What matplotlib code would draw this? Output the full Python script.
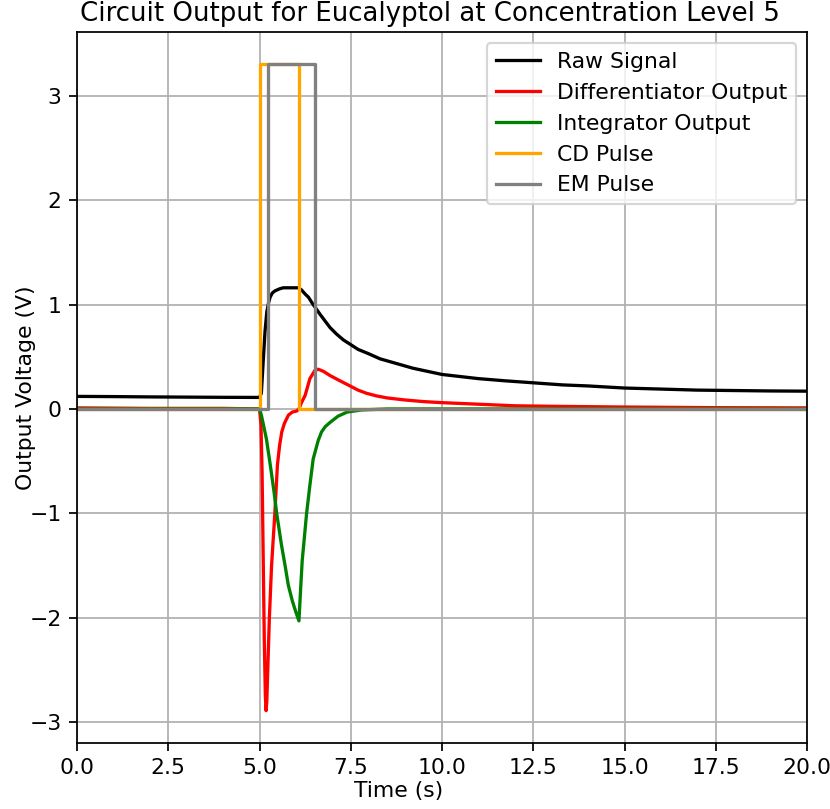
import numpy as np
import matplotlib
matplotlib.use('Agg')
import matplotlib.pyplot as plt

# Raw signal
t_raw = [0, 1, 2, 3, 4, 5.0, 5.05, 5.1, 5.15, 5.2, 5.25, 5.29, 5.35, 5.42, 5.55, 5.65,
         5.8, 6.0, 6.06, 6.15, 6.25, 6.34, 6.45, 6.55, 6.65, 6.8, 6.93, 7.1, 7.3, 7.48,
         7.7, 7.98, 8.3, 8.7, 9.2, 9.6, 10, 10.5, 11, 11.7, 12.5, 13.3, 14, 15, 16, 17,
         18, 19, 20]
v_raw = [0.12, 0.118, 0.115, 0.113, 0.111, 0.11, 0.15, 0.45, 0.74, 0.93, 1.02, 1.07,
         1.11, 1.13, 1.15, 1.16, 1.16, 1.16, 1.16, 1.14, 1.10, 1.07, 1.01, 0.96, 0.91,
         0.84, 0.78, 0.72, 0.66, 0.62, 0.57, 0.53, 0.48, 0.44, 0.39, 0.36, 0.33, 0.31,
         0.29, 0.27, 0.25, 0.23, 0.22, 0.20, 0.19, 0.18, 0.176, 0.172, 0.17]

# Differentiator output
t_diff = [0, 2, 4, 5.0, 5.04, 5.07, 5.1, 5.13, 5.16, 5.18, 5.2, 5.23, 5.27, 5.33, 5.42,
          5.49, 5.55, 5.61, 5.68, 5.79, 5.9, 6.02, 6.08, 6.15, 6.25, 6.38, 6.52, 6.61,
          6.75, 6.93, 7.2, 7.48, 7.7, 7.93, 8.2, 8.5, 9, 9.5, 10, 11, 12, 13, 15, 17.5, 20]
v_diff = [0.01, 0.005, 0.005, 0.0, -0.15, -0.6, -1.4, -2.2, -2.75, -2.89, -2.8, -2.45,
          -2.0, -1.5, -1.0, -0.54, -0.35, -0.22, -0.14, -0.06, -0.03, -0.02, 0.0, 0.06,
          0.13, 0.29, 0.37, 0.38, 0.36, 0.32, 0.27, 0.22, 0.18, 0.15, 0.125, 0.105, 0.085,
          0.07, 0.06, 0.045, 0.03, 0.025, 0.018, 0.012, 0.01]

# Integrator output
t_int = [0, 5.0, 5.05, 5.1, 5.19, 5.3, 5.4, 5.47, 5.6, 5.7, 5.79, 5.9, 6.0, 6.08, 6.1,
         6.13, 6.17, 6.2, 6.29, 6.38, 6.47, 6.61, 6.7, 6.8, 6.93, 7.15, 7.4, 7.8, 8.5, 20]
v_int = [0, 0, -0.06, -0.14, -0.29, -0.55, -0.8, -1.0, -1.3, -1.5, -1.69, -1.84, -1.95,
         -2.03, -1.9, -1.7, -1.45, -1.34, -1.0, -0.73, -0.48, -0.30, -0.22, -0.17, -0.13,
         -0.07, -0.03, -0.01, 0, 0]

# Pulses
t_cd = [0, 5.01, 5.01, 6.08, 6.08, 20]
v_cd = [0, 0, 3.3, 3.3, 0, 0]
t_em = [0, 5.23, 5.23, 6.52, 6.52, 20]
v_em = [0, 0, 3.3, 3.3, 0, 0]

dpi = 157.5
fig = plt.figure(figsize=(830 / dpi, 809 / dpi), dpi=dpi)
ax = fig.add_axes([0.0928, 0.0816, 0.8795, 0.8788])

ax.plot(t_raw, v_raw, color='black', label='Raw Signal')
ax.plot(t_diff, v_diff, color='red', label='Differentiator Output')
ax.plot(t_int, v_int, color='green', label='Integrator Output')
ax.plot(t_cd, v_cd, color='orange', label='CD Pulse')
ax.plot(t_em, v_em, color='gray', label='EM Pulse')

ax.set_xlim(0, 20)
ax.set_title('Circuit Output for Eucalyptol at Concentration Level 5',
             fontsize=11.9, x=0.484, pad=5)
ax.set_xlabel('Time (s)')
ax.set_ylabel('Output Voltage (V)')
ax.grid(True)
ax.legend(loc='upper right')

# the axis labels in the reference sit off-centre, move them there
ax.xaxis.set_label_coords(0.441, -0.053)
ax.yaxis.set_label_coords(-0.056, 0.5)

fig.savefig('out.png', dpi=dpi)
